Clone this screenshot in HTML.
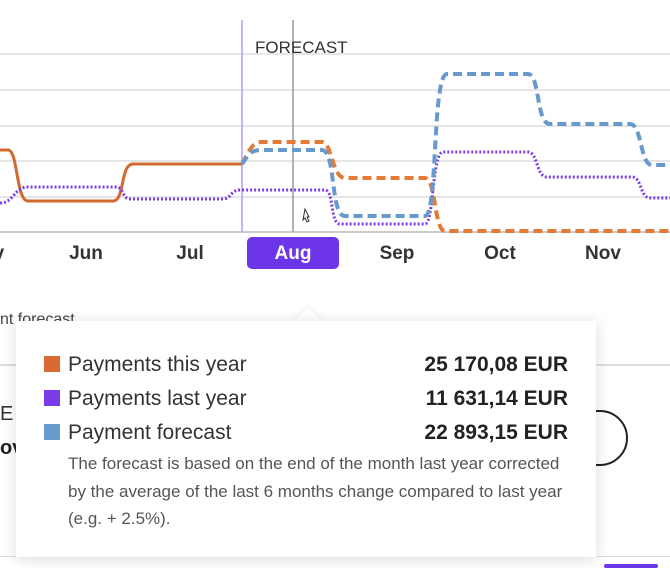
<!DOCTYPE html>
<html><head><meta charset="utf-8"><style>
body{margin:0;width:670px;height:567px;overflow:hidden;background:#fff;font-family:"Liberation Sans",sans-serif;position:relative}
.lab{position:absolute;top:243px;font-size:19px;font-weight:bold;color:#333;transform:translateX(-50%)}
.tip{position:absolute;left:16px;top:321px;width:580px;height:236px;background:#fff;box-shadow:0 2px 14px rgba(0,0,0,.15)}
.row{position:absolute;left:28px;width:524px;font-size:21px;color:#333;height:28px;line-height:28px}
.row i{display:inline-block;width:16px;height:16px;margin-right:8px;vertical-align:-1px}
.row b{position:absolute;right:0;font-weight:bold;color:#222}
.desc{position:absolute;left:52px;top:129px;font-size:17px;line-height:27.5px;color:#555;width:506px}
</style></head><body>
<svg width="670" height="300" style="position:absolute;left:0;top:0">
<g stroke="#e6e6e6" stroke-width="2"><line x1="0" x2="670" y1="54" y2="54"/><line x1="0" x2="670" y1="90" y2="90"/><line x1="0" x2="670" y1="126" y2="126"/><line x1="0" x2="670" y1="161" y2="161"/><line x1="0" x2="670" y1="197" y2="197"/></g>
<line x1="0" x2="670" y1="232" y2="232" stroke="#ccc" stroke-width="2"/>
<line x1="242" x2="242" y1="20" y2="232" stroke="#b89af0" stroke-width="1.5"/>
<line x1="293" x2="293" y1="20" y2="232" stroke="#999" stroke-width="1.5"/>
<text x="255" y="53" font-size="17" fill="#333" font-family="Liberation Sans">FORECAST</text>
<g fill="none" stroke-linejoin="round">
<path d="M0,150 L8,150 C18,150 16,201 28,201 L113,201 C125,201 120,164 133,164 L242,164" stroke="#d2692f" stroke-width="3"/>
<path d="M0,203 C14,203 14,187 28,187 L116,187 C124,187 122,199 130,199 L222,199 C232,199 230,190 240,190 L325,190 C334,190 330,224 340,224 L425,224 C434,224 432,152 443,152 L528,152 C538,152 536,177 547,177 L632,177 C642,177 640,198 650,198 L670,198" stroke="#7a3ce8" stroke-width="3" stroke-dasharray="2,2"/>
<path d="M242,164 C250,150 252,142 262,142 L322,142 C332,142 332,178 345,178 L425,178 C436,178 434,231 445,231 L670,231" stroke="#e47a36" stroke-width="4" stroke-dasharray="9,5"/>
<path d="M242,164 C250,152 252,150 262,150 L322,150 C336,150 330,216 345,216 L425,216 C438,216 432,74 447,74 L528,74 C540,74 536,124 550,124 L630,124 C642,124 640,165 652,165 L670,165" stroke="#6699cc" stroke-width="4" stroke-dasharray="9,5"/>
</g>
<path d="M305,240 l4,8 -2,0 2,4 -2,1 -2,-4 -2,2z" fill="#fff" stroke="#333" stroke-width="1" transform="translate(0,-31)"/>
<rect x="247" y="237" width="92" height="32" rx="5" fill="#6d35e8"/>
</svg>
<div class="lab" style="left:0;transform:translateX(-60%)">y</div>
<div class="lab" style="left:86px">Jun</div>
<div class="lab" style="left:190px">Jul</div>
<div class="lab" style="left:293px;color:#fff">Aug</div>
<div class="lab" style="left:397px">Sep</div>
<div class="lab" style="left:500px">Oct</div>
<div class="lab" style="left:603px">Nov</div>
<div style="position:absolute;left:0;top:311px;font-size:16px;color:#444">nt forecast</div>
<div style="position:absolute;left:0;top:364px;width:670px;height:2px;background:#ddd"></div>
<div style="position:absolute;left:0;top:403px;font-size:20px;color:#333">E</div>
<div style="position:absolute;left:0;top:437px;font-size:20px;font-weight:bold;color:#222">ov</div>
<div style="position:absolute;left:570px;top:410px;width:54px;height:52px;border:2px solid #222;border-radius:28px"></div>
<div style="position:absolute;left:0;top:556px;width:670px;height:1px;background:#ddd"></div>
<div style="position:absolute;left:604px;top:564px;width:54px;height:4px;background:#6d35e8;border-radius:2px"></div>
<div style="position:absolute;left:293px;top:307px;width:0;height:0;border-left:15px solid transparent;border-right:15px solid transparent;border-bottom:15px solid #fff;filter:drop-shadow(0 -2px 2px rgba(0,0,0,.06))"></div>
<div class="tip">
<div class="row" style="top:30px"><i style="background:#d96a30"></i>Payments this year<b>25 170,08 EUR</b></div>
<div class="row" style="top:64px"><i style="background:#7a3ce8"></i>Payments last year<b>11 631,14 EUR</b></div>
<div class="row" style="top:98px"><i style="background:#6699cc"></i>Payment forecast<b>22 893,15 EUR</b></div>
<div class="desc">The forecast is based on the end of the month last year corrected by the average of the last 6 months change compared to last year (e.g. + 2.5%).</div>
</div>
</body></html>
